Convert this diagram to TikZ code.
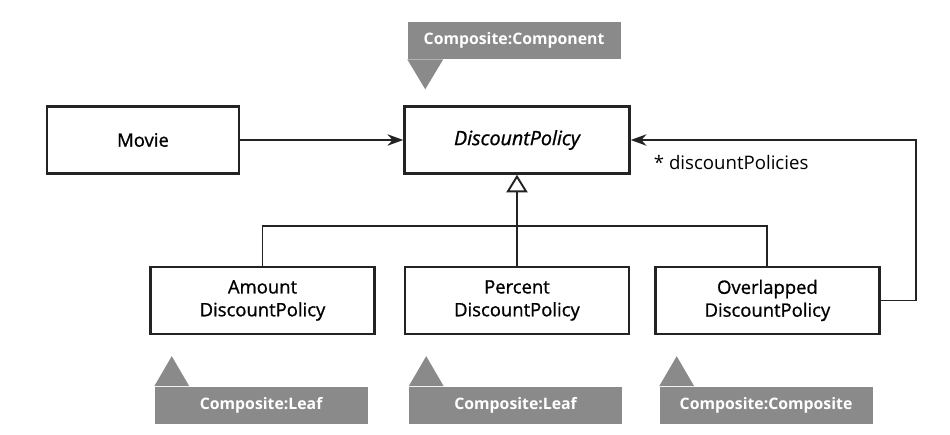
\documentclass[tikz,border=0pt]{standalone}
\usepackage{fontspec}
\setmainfont{Open Sans}
\newfontfamily\boxfont[FakeBold=1]{Open Sans}
\usetikzlibrary{arrows.meta, positioning, calc, shadows}
\definecolor{linegray}{RGB}{35,35,35}
\definecolor{taggray}{RGB}{138,138,138}

\begin{document}
\begin{tikzpicture}[
        node distance=1.5cm,
        box/.style={rectangle, draw=linegray, line width=1.4pt, fill=white, minimum width=4.48cm, minimum height=1.34cm, align=center, font=\boxfont\fontsize{10.5}{13}\selectfont, drop shadow={opacity=0.25, shadow xshift=0.7pt, shadow yshift=-0.7pt}},
        tag/.style={rectangle, fill=taggray, text=white, minimum width=4.26cm, minimum height=0.74cm, inner sep=0pt, font=\fontsize{9}{11}\selectfont\bfseries},
        link/.style={draw=linegray, line width=1.1pt}
    ]
        \useasboundingbox (-2.86,2.8) rectangle (16.14,-5.88);
        \node[box, minimum width=3.84cm] (movie) {Movie};
        \node[box, minimum width=4.5cm, right=3.26cm of movie] (discount) {\itshape\fontsize{11.2}{13}\selectfont DiscountPolicy};
        \node[box, below=1.82cm of discount] (percent) {Percent\\DiscountPolicy};
        \node[box, left=0.56cm of percent] (amount) {Amount\\DiscountPolicy};
        \node[box, right=0.48cm of percent] (overlapped) {Overlapped\\DiscountPolicy};

        % composite role tags
        \node[tag, anchor=south west] (componenttag) at ([xshift=0.08cm, yshift=0.92cm]discount.north west) {Composite:Component};
        \fill[taggray] (componenttag.south west) -- ++(0.72,0) -- ++(-0.36,-0.6) -- cycle;
        \node[tag, anchor=north west] (amounttag) at ([xshift=0.1cm, yshift=-1.02cm]amount.south west) {Composite:Leaf};
        \fill[taggray] (amounttag.north west) -- ++(0.7,0) -- ++(-0.35,0.6) -- cycle;
        \node[tag, anchor=north west] (percenttag) at ([xshift=0.1cm, yshift=-1.02cm]percent.south west) {Composite:Leaf};
        \fill[taggray] (percenttag.north west) -- ++(0.7,0) -- ++(-0.35,0.6) -- cycle;
        \node[tag, anchor=north west] (overlappedtag) at ([xshift=0.1cm, yshift=-1.02cm]overlapped.south west) {Composite:Composite};
        \fill[taggray] (overlappedtag.north west) -- ++(0.7,0) -- ++(-0.35,0.6) -- cycle;

        \draw[link, -{Stealth[length=9pt, width=6.5pt]}] (movie) -- (discount);
        \draw[link, -{Triangle[open, length=10pt, width=12pt]}] (percent) -- (discount);
        \draw[link] (amount.north) |- ($(percent.north)+(0,0.8)$) -| (overlapped.north);
        \draw[link, -{Stealth[length=9pt, width=6.5pt]}] (overlapped.east) -- ++(0.7,0) |- (discount.east);
        \node[anchor=west, font=\fontsize{10.6}{13}\selectfont] (rolelabel) at ([xshift=0.34cm, yshift=-0.46cm]discount.east) {* discountPolicies};
    \end{tikzpicture}
\end{document}
